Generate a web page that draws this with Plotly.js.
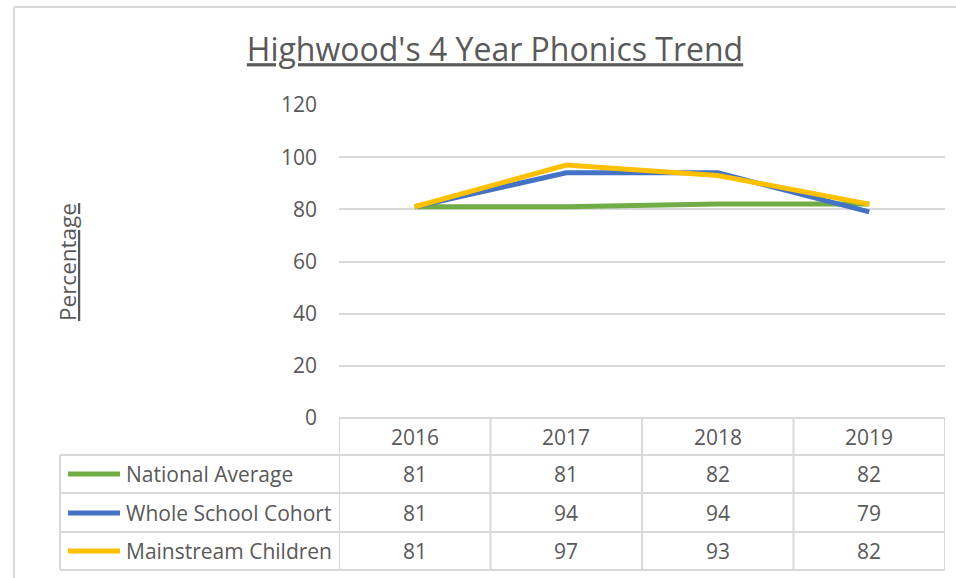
<!DOCTYPE html>
<html>
<head>
<meta charset="utf-8">
<script src="https://cdn.plot.ly/plotly-3.0.1.min.js"></script>
<style>html,body{margin:0;padding:0;background:#fff;}#chart{width:956px;height:578px;}</style>
</head>
<body>
<div id="chart"></div>
<script>
// ---- data ----
const years = ["2016", "2017", "2018", "2019"];
const seriesNames = ["National Average", "Whole School Cohort", "Mainstream Children"];
const nationalAverage = [81, 81, 82, 82];
const wholeSchoolCohort = [81, 94, 94, 79];
const mainstreamChildren = [81, 97, 93, 82];
const seriesColors = ["#70AD47", "#4472C4", "#FFC000"];
const yTicks = [0, 20, 40, 60, 80, 100, 120];
const chartTitle = "Highwood's 4 Year Phonics Trend";
const yTitle = "Percentage";

// ---- layout geometry (pixels) ----
const W = 956, H = 578;
const L = 339, R = 945, T = 105, B = 418;
const pw = R - L, ph = B - T;
const px = v => (v - L) / pw;   // pixel x -> paper
const py = v => (B - v) / ph;   // pixel y -> paper
const txtColor = "#595959";
const gridColor = "#D9D9D9";
const FONT = "Open Sans, Noto Sans, sans-serif";

const allSeries = [nationalAverage, wholeSchoolCohort, mainstreamChildren];

const traces = allSeries.map((vals, i) => ({
  type: "scatter", mode: "lines", x: years, y: vals, name: seriesNames[i],
  line: {color: seriesColors[i], width: 5}, hoverinfo: "skip", showlegend: false
}));

// table geometry
const rowLines = [455, 493, 532, 570];
const rowCenters = [474, 513, 551];
const headerCenter = 437;
const tableLeft = 60;
const shapes = [];
const gl = (x0, y0, x1, y1, xref) => shapes.push({type: "line", xref: xref || "paper", yref: "paper",
  x0, y0, x1, y1, line: {color: gridColor, width: 2}, layer: "above"});

// outer chart border
gl(px(14), py(7), px(W + 5), py(7));
gl(px(14), py(7), px(14), py(H + 5));
// table horizontals
gl(-0.5, py(418), 3.5, py(418), "x");
rowLines.forEach(y => gl(px(tableLeft), py(y), px(R), py(y)));
// table verticals
gl(px(tableLeft), py(455), px(tableLeft), py(570));
[-0.5, 0.5, 1.5, 2.5, 3.5].forEach(c => gl(c, py(418), c, py(570), "x"));

// legend keys
allSeries.forEach((_, i) => shapes.push({type: "line", xref: "paper", yref: "paper",
  x0: px(68), x1: px(120), y0: py(rowCenters[i]), y1: py(rowCenters[i]),
  line: {color: seriesColors[i], width: 5}}));

const annotations = [];
const tf = {family: FONT, size: 21, color: txtColor};
years.forEach((yr, j) => annotations.push({xref: "x", yref: "paper", x: j, y: py(headerCenter),
  text: yr, showarrow: false, font: tf, xanchor: "center", yanchor: "middle"}));
allSeries.forEach((vals, i) => {
  annotations.push({xref: "paper", yref: "paper", x: px(124), y: py(rowCenters[i]), text: seriesNames[i],
    showarrow: false, font: tf, xanchor: "left", yanchor: "middle"});
  vals.forEach((v, j) => annotations.push({xref: "x", yref: "paper", x: j, y: py(rowCenters[i]),
    text: String(v), showarrow: false, font: tf, xanchor: "center", yanchor: "middle"}));
});
// y axis title
annotations.push({xref: "paper", yref: "paper", x: px(67), y: py(262), text: yTitle, textangle: -90,
  showarrow: false, font: {family: FONT, size: 22.5, color: txtColor, lineposition: "under"},
  xanchor: "center", yanchor: "middle"});

const layout = {
  width: W, height: H,
  margin: {l: L, r: W - R, t: T, b: H - B, pad: 0},
  paper_bgcolor: "#fff", plot_bgcolor: "#fff",
  title: {text: chartTitle, xref: "paper", x: px(495), xanchor: "center",
    yref: "container", y: 1 - 50 / H, yanchor: "middle",
    font: {family: FONT, size: 32, color: txtColor, lineposition: "under"}},
  xaxis: {type: "category", range: [-0.5, 3.5], showgrid: false, showticklabels: false,
    zeroline: false, showline: false, fixedrange: true},
  yaxis: {range: [0, 120], tickvals: yTicks, showgrid: true, gridcolor: gridColor, gridwidth: 2,
    zeroline: false, showline: false, ticks: "", ticklabelstandoff: 21,
    tickfont: {family: FONT, size: 21, color: txtColor}, fixedrange: true},
  shapes, annotations, showlegend: false
};

Plotly.newPlot("chart", traces, layout, {displayModeBar: false, staticPlot: true});
</script>
</body>
</html>
